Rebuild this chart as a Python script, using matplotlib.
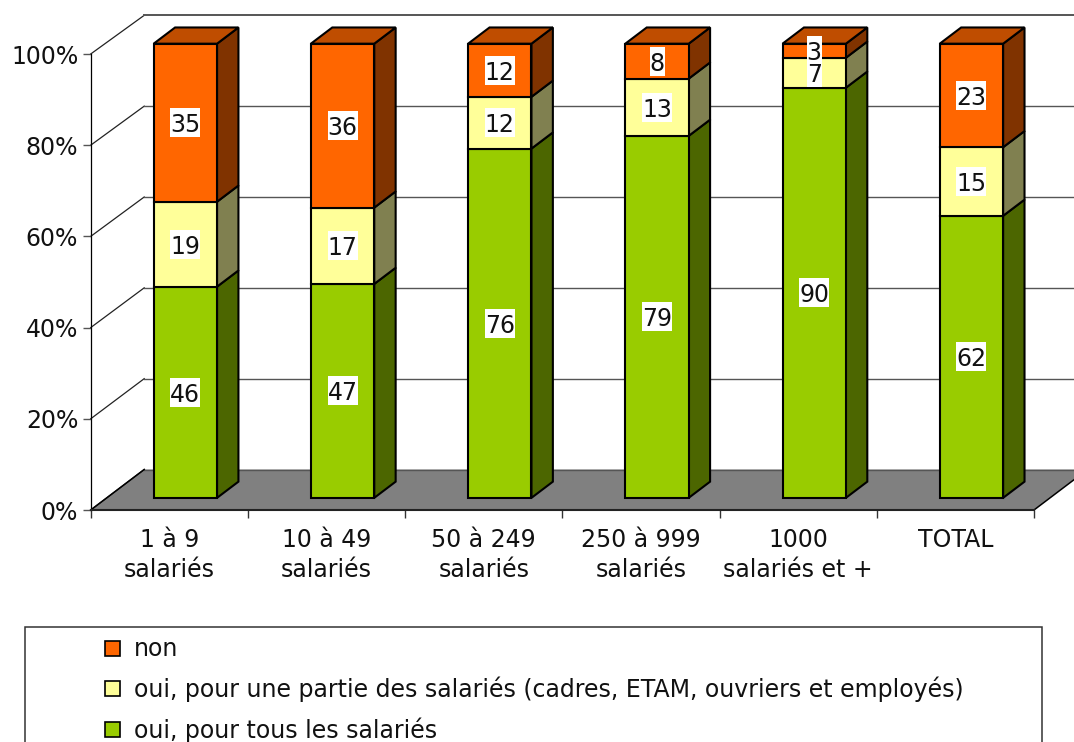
import matplotlib
matplotlib.use("Agg")
import matplotlib.pyplot as plt
from matplotlib.patches import Polygon, Rectangle

categories = ["1 à 9\nsalariés", "10 à 49\nsalariés", "50 à 249\nsalariés",
              "250 à 999\nsalariés", "1000\nsalariés et +", "TOTAL"]
y_ticks = [0, 20, 40, 60, 80, 100]

# segment heights, the labels are the printed numbers
tous = [46.5, 47.1, 76.9, 79.7, 90.3, 62.1]
partie = [18.7, 16.8, 11.4, 12.6, 6.6, 15.1]
non = [34.8, 36.1, 11.7, 7.7, 3.1, 22.8]

tous_labels = [46, 47, 76, 79, 90, 62]
partie_labels = [19, 17, 12, 13, 7, 15]
non_labels = [35, 36, 12, 8, 3, 23]

legend_labels = ["non",
                 "oui, pour une partie des salariés (cadres, ETAM, ouvriers et employés)",
                 "oui, pour tous les salariés"]

FRONT = ["#99CC00", "#FFFF99", "#FF6600"]
SIDE = ["#4C6600", "#808050", "#803300"]
TOP = "#BF4D00"

W, H = 1074, 742
X0, X1, Y0, Y100 = 90.7, 1034.0, 510.0, 54.0
FONT = 17.0
EDGE = 1.5

# data units per pixel
PX_X = 6 / (X1 - X0)
PX_Y = 100 / (Y0 - Y100)

# depth of the 3d box in data units
DEPTH_X = 53.5 * PX_X
DEPTH_Y = 40.5 * PX_Y
BAR_WIDTH = 0.403
BAR_SCALE = 0.996


def proj(x, y, d):
    return x + d * DEPTH_X, y + d * DEPTH_Y


def draw_bar(ax, center, values, labels):
    left = center - BAR_WIDTH / 2
    right = center + BAR_WIDTH / 2
    d0, d1 = 0.3, 0.7
    bottom = 0
    for i, val in enumerate(values):
        top = bottom + val * BAR_SCALE
        side = [proj(right, bottom, d0), proj(right, top, d0),
                proj(right, top, d1), proj(right, bottom, d1)]
        front = [proj(left, bottom, d0), proj(left, top, d0),
                 proj(right, top, d0), proj(right, bottom, d0)]
        ax.add_patch(Polygon(side, fc=SIDE[i], ec="black", lw=EDGE, clip_on=False, zorder=3))
        ax.add_patch(Polygon(front, fc=FRONT[i], ec="black", lw=EDGE, clip_on=False, zorder=3))
        if i == len(values) - 1:
            cap = [proj(left, top, d0), proj(left, top, d1),
                   proj(right, top, d1), proj(right, top, d0)]
            ax.add_patch(Polygon(cap, fc=TOP, ec="black", lw=EDGE, clip_on=False, zorder=3))
        bottom = top

    # white label boxes are as wide as the digits and taller than the text
    bottom = 0
    for val, lab in zip(values, labels):
        top = bottom + val * BAR_SCALE
        tx, ty = proj(center, (bottom + top) / 2, d0)
        text = str(lab)
        bw = 15 * len(text) * PX_X
        bh = 29 * PX_Y
        ax.add_patch(Rectangle((tx - bw / 2, ty - bh / 2), bw, bh, fc="white", ec="none",
                               clip_on=False, zorder=4))
        ax.text(tx, ty, text, ha="center", va="center_baseline", fontsize=FONT,
                color="#111111", zorder=5)
        bottom = top


plt.rcParams["font.family"] = "DejaVu Sans"
plt.rcParams["text.color"] = "#111111"
plt.rcParams["xtick.labelcolor"] = "#111111"
plt.rcParams["ytick.labelcolor"] = "#111111"

fig = plt.figure(figsize=(W / 100, H / 100), dpi=100)
ax = fig.add_axes([X0 / W, (H - Y0) / H, (X1 - X0) / W, (Y0 - Y100) / H])
ax.set_xlim(0, 6)
ax.set_ylim(0, 100)
ax.patch.set_visible(False)

# floor
floor = [proj(0, 0, 0), proj(0, 0, 1), proj(6, 0, 1), proj(6, 0, 0)]
ax.add_patch(Polygon(floor, fc="#808080", ec="none", clip_on=False, zorder=1))
ax.plot(*zip(proj(0, 0, 0), proj(0, 0, 1)), color="black", lw=1.1, clip_on=False, zorder=2)
ax.plot(*zip(proj(6, 0, 0), proj(6, 0, 1)), color="black", lw=1.1, clip_on=False, zorder=2)

# gridlines on the side wall and the back wall
for t in y_ticks:
    ax.plot(*zip(proj(0, t, 0), proj(0, t * BAR_SCALE, 1)), color="#222222", lw=0.9,
            clip_on=False, zorder=1)
    ax.plot(*zip(proj(0, t * BAR_SCALE, 1), proj(6, t * BAR_SCALE, 1)), color="#555555",
            lw=1.4 if t == 100 else 1.0, clip_on=False, zorder=1)

for i in range(len(categories)):
    draw_bar(ax, i + 0.5, [tous[i], partie[i], non[i]],
             [tous_labels[i], partie_labels[i], non_labels[i]])

for s in ["top", "right"]:
    ax.spines[s].set_visible(False)
ax.spines["left"].set_linewidth(0.9)
ax.spines["bottom"].set_linewidth(1.5)
ax.spines["bottom"].set_color("#222222")
for s in ["left", "bottom"]:
    ax.spines[s].set_zorder(2)

ax.set_yticks(y_ticks)
ax.set_yticklabels([f"{t}%" for t in y_ticks], fontsize=FONT)
ax.tick_params(axis="y", length=6, width=1.0, color="#555555", pad=3)

ax.set_xticks(range(7))
ax.set_xticklabels([])
ax.tick_params(axis="x", which="major", length=6, width=1.0, color="#333333")
ax.set_xticks([i + 0.5 for i in range(6)], minor=True)
ax.set_xticklabels(categories, minor=True, fontsize=FONT, linespacing=1.3)
ax.tick_params(axis="x", which="minor", length=0, pad=13)

# legend, its box runs off the bottom of the picture
leg = fig.add_axes([0, 0, 1, 1], zorder=-1)
leg.set_xlim(0, W)
leg.set_ylim(H, 0)
leg.axis("off")
leg.add_patch(Rectangle((25, 627), 1017, 140, fc="white", ec="#333333", lw=1.1))
for i, lab in enumerate(legend_labels):
    yc = 648 + i * 40.5
    leg.add_patch(Rectangle((105, yc - 7.5), 15, 15, fc=FRONT[2 - i], ec="black", lw=1.2))
    leg.text(134, yc + 1, lab, va="center", ha="left", fontsize=FONT)

fig.savefig("out.png", dpi=100)
plt.close(fig)
